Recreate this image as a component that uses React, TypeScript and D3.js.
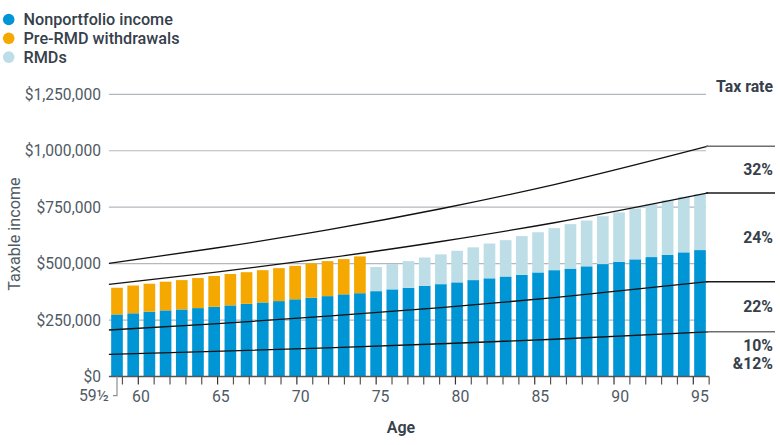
import * as d3 from "d3";

// bar categories (first bar is age 59½)
const categories = [
  "59½", "60", "61", "62", "63", "64", "65", "66", "67", "68", "69", "70", "71", "72", "73", "74",
  "75", "76", "77", "78", "79", "80", "81", "82", "83", "84", "85", "86", "87", "88", "89", "90",
  "91", "92", "93", "94", "95",
];

const nonportfolio = [
  275000, 280000, 287000, 293000, 297000, 303000, 309000, 315000, 322000, 328000, 334000, 342000,
  349000, 356000, 364000, 369000, 378000, 386000, 393000, 402000, 409000, 417000, 427000, 435000,
  443000, 450000, 461000, 471000, 478000, 488000, 498000, 508000, 519000, 529000, 539000, 550000,
  560000,
];

const preRmd = [
  118000, 123000, 124000, 127000, 130000, 133000, 136000, 139000, 140000, 143000, 146000, 148000,
  152000, 155000, 156000, 163000, 0, 0, 0, 0, 0, 0, 0, 0, 0, 0, 0, 0, 0, 0, 0, 0, 0, 0, 0, 0, 0,
];

const rmds = [
  0, 0, 0, 0, 0, 0, 0, 0, 0, 0, 0, 0, 0, 0, 0, 0, 107000, 112000, 118000, 125000, 132000, 140000,
  145000, 154000, 161000, 172000, 178000, 186000, 197000, 203000, 212000, 219000, 225000, 234000,
  242000, 246000, 248000,
];

// tax bracket upper limits, read at a few points along the age axis
const bracketAges = [58.5, 65, 72, 79, 86, 95.5];
const top12 = [98000, 111000, 127000, 145000, 165000, 198000];
const top22 = [206000, 233000, 267000, 305000, 349000, 420000];
const top24 = [408000, 461000, 525000, 598000, 681000, 813000];
const top32 = [501000, 568000, 649000, 743000, 850000, 1020000];

const yTicks = [0, 250000, 500000, 750000, 1000000, 1250000];
const labelAges = [60, 65, 70, 75, 80, 85, 90, 95];
const tickAges = d3.range(59, 97);

const legendItems = ["Nonportfolio income", "Pre-RMD withdrawals", "RMDs"];
const keys = ["nonportfolio", "preRmd", "rmds"];
const colors = ["#0096d6", "#f5a800", "#bedee7"];

const font = "Roboto, 'Open Sans', sans-serif";
const textDark = "#36404a";
const textGray = "#505a64";

export default function App() {
  const left = 108.9;
  const right = 708.1;
  const x = d3
    .scaleBand<string>()
    .domain(categories)
    .range([left, right])
    .paddingInner(0.28)
    .paddingOuter(0.14);
  const xPos = d3.scaleLinear().domain([58.5, 95.5]).range([left, right]);
  const xTick = d3.scaleLinear().domain([60, 95]).range([138.3, 693.3]);
  const xLabel = d3.scaleLinear().domain([60, 95]).range([141, 700]);
  const y = d3.scaleLinear().domain([0, 1250000]).range([376.5, 94.3]);

  const rows = categories.map((c, i) => ({
    cat: c,
    nonportfolio: nonportfolio[i],
    preRmd: preRmd[i],
    rmds: rmds[i],
  }));
  const series = d3.stack<any>().keys(keys)(rows);

  const line = d3
    .line<[number, number]>()
    .x((d) => xPos(d[0]))
    .y((d) => y(d[1]))
    .curve(d3.curveMonotoneX);

  const brackets = [
    { vals: top12, ext: "#6e6e6e" },
    { vals: top22, ext: "#1a1a1a" },
    { vals: top24, ext: "#1a1a1a" },
    { vals: top32, ext: "#6e6e6e" },
  ];
  const endY = (v: number[]) => y(v[v.length - 1]);
  const lineEnd = xPos(95.5) - 2;
  const extEnd = 775;

  const fmt = d3.format("$,");
  const x0 = (x(categories[0]) as number) + x.bandwidth() / 2;

  return (
    <svg
      width={780}
      height={445}
      style={{ position: "absolute", left: 0, top: 0, fontFamily: font }}
    >
      <rect width={780} height={445} fill="#fff" />

      {/* legend */}
      {legendItems.map((name, i) => (
        <g key={name} transform={`translate(0, ${19.5 + i * 18.8})`}>
          <circle cx={8.7} cy={0} r={5.8} fill={colors[i]} />
          <text x={23.5} y={0} dy="0.35em" fontSize={16.2} fontWeight={500} fill={textDark}>
            {name}
          </text>
        </g>
      ))}

      {/* gridlines */}
      {yTicks.slice(1).map((t) => (
        <line key={t} x1={left} x2={lineEnd} y1={y(t)} y2={y(t)} stroke="#b3b8bd" strokeWidth={1.2} />
      ))}

      {/* y tick labels */}
      {yTicks.map((t) => (
        <text
          key={t}
          x={101}
          y={y(t)}
          dy="0.35em"
          textAnchor="end"
          fontSize={15.6}
          fill={textGray}
        >
          {fmt(t)}
        </text>
      ))}

      <text
        transform={`translate(14, 234) rotate(-90)`}
        dy="0.35em"
        textAnchor="middle"
        fontSize={16.2}
        fill={textGray}
      >
        Taxable income
      </text>

      {/* bars */}
      {series.map((s, si) => (
        <g key={s.key} fill={colors[si]}>
          {s.map((d, i) =>
            d[1] - d[0] > 0 ? (
              <rect
                key={i}
                x={x(categories[i])}
                width={x.bandwidth()}
                y={y(d[1])}
                height={y(d[0]) - y(d[1])}
              />
            ) : null
          )}
        </g>
      ))}

      {/* tax bracket curves */}
      {brackets.map((b, i) => (
        <g key={i}>
          <path
            d={line(bracketAges.map((a, j) => [a, b.vals[j]]) as [number, number][]) || undefined}
            fill="none"
            stroke="#111"
            strokeWidth={1.3}
          />
          <line
            x1={lineEnd}
            x2={extEnd}
            y1={endY(b.vals)}
            y2={endY(b.vals)}
            stroke={b.ext}
            strokeWidth={1.4}
          />
        </g>
      ))}

      {/* bracket labels */}
      <g fontSize={15.8} fontWeight={700} fill={textDark} textAnchor="end">
        <text x={773} y={86} dy="0.35em">Tax rate</text>
        <text x={773} y={(endY(top32) + endY(top24)) / 2} dy="0.35em">32%</text>
        <text x={773} y={(endY(top24) + endY(top22)) / 2} dy="0.35em">24%</text>
        <text x={773} y={(endY(top22) + endY(top12)) / 2} dy="0.35em">22%</text>
        <text x={773} y={(endY(top12) + y(0)) / 2 - 9} dy="0.35em">10%</text>
        <text x={773} y={(endY(top12) + y(0)) / 2 + 9.5} dy="0.35em">&amp;12%</text>
      </g>

      {/* x axis */}
      <line x1={left} x2={709} y1={y(0)} y2={y(0)} stroke="#555" strokeWidth={1.6} />
      {tickAges.map((a) => (
        <line
          key={a}
          x1={xTick(a)}
          x2={xTick(a)}
          y1={y(0)}
          y2={y(0) + 8}
          stroke={labelAges.includes(a) ? "#333" : "#555"}
          strokeWidth={1.2}
        />
      ))}
      {labelAges.map((a) => (
        <text
          key={a}
          x={xLabel(a)}
          y={y(0) + 20}
          dy="0.35em"
          textAnchor="middle"
          fontSize={15.8}
          fill={textGray}
        >
          {a}
        </text>
      ))}

      {/* 59½ leader */}
      <path
        d={`M${x0},${y(0)}V${y(0) + 19.2}H${x0 - 4}`}
        fill="none"
        stroke="#8a9096"
        strokeWidth={1.2}
      />
      <text x={x0 - 8} y={y(0) + 19.2} dy="0.35em" textAnchor="end" fontSize={15.8} fill={textGray}>
        {categories[0]}
      </text>

      <text x={401} y={427} dy="0.35em" textAnchor="middle" fontSize={16} fontWeight={600} fill={textDark}>
        Age
      </text>
    </svg>
  );
}
